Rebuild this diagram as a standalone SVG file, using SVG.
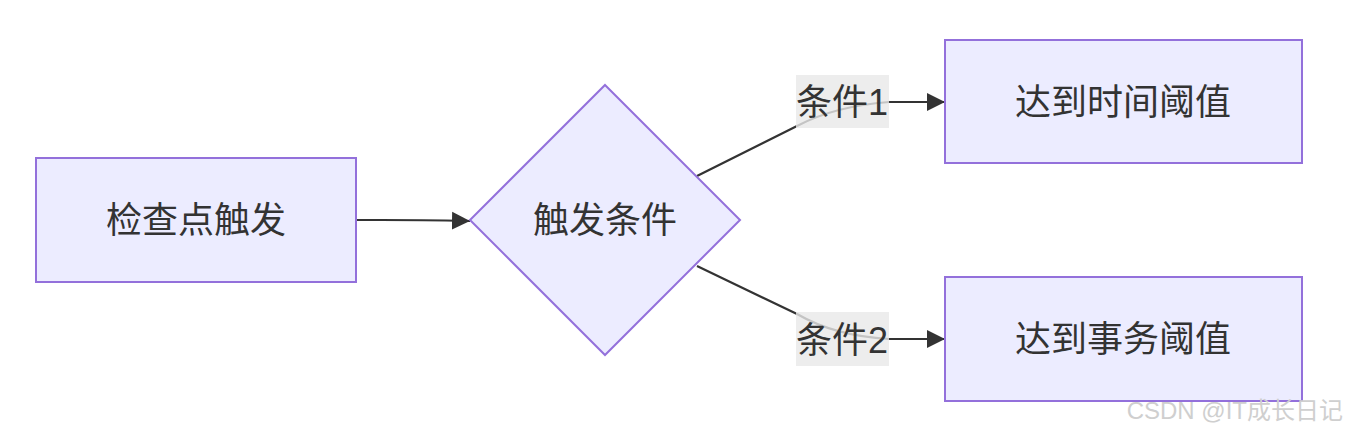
<svg xmlns="http://www.w3.org/2000/svg" width="1348" height="432" viewBox="0 0 1348 432">
<style>
.node{fill:#ECECFF;stroke:#9370DB;stroke-width:2}
.lbl{font-family:"Liberation Sans","Noto Sans CJK SC",sans-serif;font-size:36px;fill:#333;text-anchor:middle;dominant-baseline:central}
.edge{fill:none;stroke:#333;stroke-width:2.2}
.ebg{fill:#E8E8E8;fill-opacity:0.8}
.wm{font-family:"Liberation Sans","Noto Sans CJK SC",sans-serif;font-size:24px;fill:#CFCFCF;text-anchor:end}
</style>
<defs>
<marker id="arr" viewBox="0 0 10 10" refX="10" refY="5" markerWidth="18" markerHeight="19" markerUnits="userSpaceOnUse" orient="auto">
<path d="M0,0 L10,5 L0,10 z" fill="#333"/>
</marker>
</defs>
<rect width="1348" height="432" fill="#fff"/>
<g id="edges">
<path class="edge" d="M356,220 L381,220 Q420,220 470,221" marker-end="url(#arr)"/>
<path class="edge" d="M697,176 L797,126 Q835,106 889,102 L945,102" marker-end="url(#arr)"/>
<path class="edge" d="M697,266 L797,314 Q835,336 889,339 L945,339" marker-end="url(#arr)"/>
</g>
<g id="edge-labels">
<rect class="ebg" x="796" y="75" width="93" height="53"/>
<text class="lbl" x="842" y="102">条件1</text>
<rect class="ebg" x="796" y="312" width="93" height="54"/>
<text class="lbl" x="842" y="340">条件2</text>
</g>
<g id="n1">
<rect class="node" x="36" y="158" width="320" height="124"/>
<text class="lbl" x="196" y="220">检查点触发</text>
</g>
<g id="n2">
<polygon class="node" points="605,85 740,220 605,355 470,220"/>
<text class="lbl" x="605" y="220">触发条件</text>
</g>
<g id="n3">
<rect class="node" x="945" y="40" width="357" height="123"/>
<text class="lbl" x="1123" y="102">达到时间阈值</text>
</g>
<g id="n4">
<rect class="node" x="945" y="277" width="357" height="124"/>
<text class="lbl" x="1123" y="339">达到事务阈值</text>
</g>
<text class="wm" x="1343" y="419">CSDN @IT成长日记</text>
</svg>
